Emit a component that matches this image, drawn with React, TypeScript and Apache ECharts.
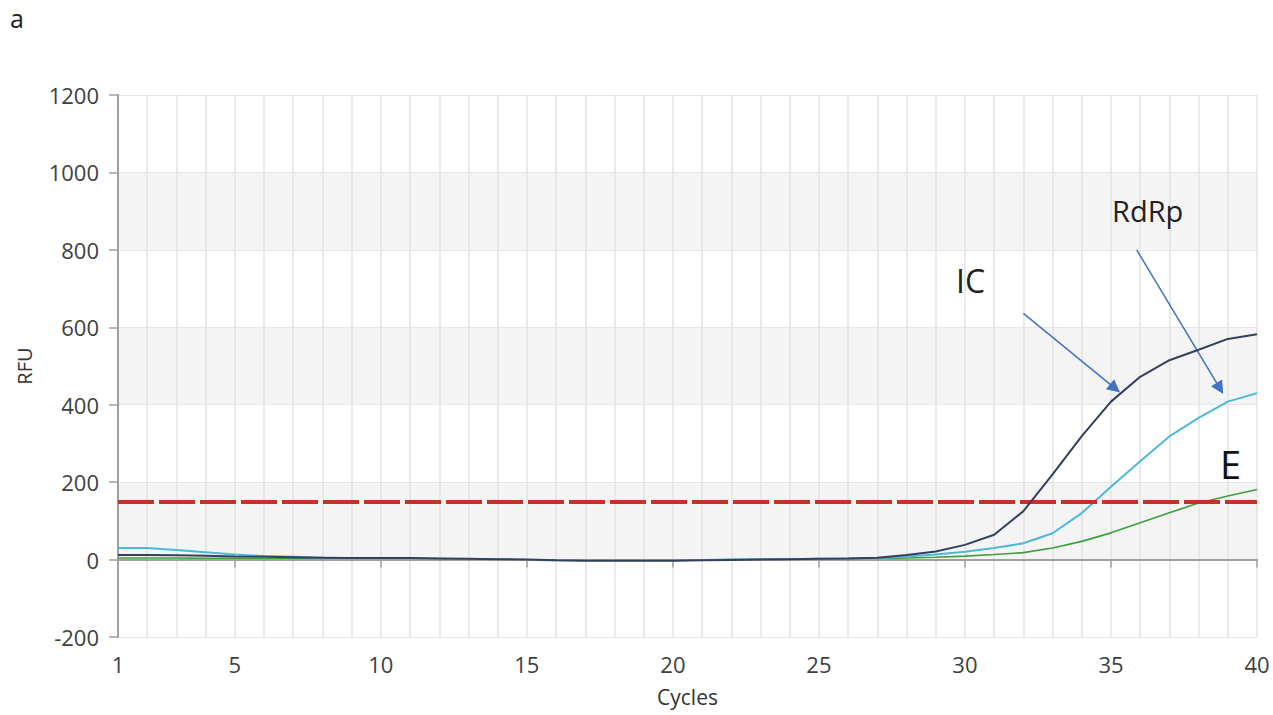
import React, { useEffect, useRef } from "react";
import * as echarts from "echarts";

// ---- data ----
const cycles = [1, 2, 3, 4, 5, 6, 7, 8, 9, 10, 11, 12, 13, 14, 15, 16, 17, 18, 19, 20,
  21, 22, 23, 24, 25, 26, 27, 28, 29, 30, 31, 32, 33, 34, 35, 36, 37, 38, 39, 40];

const icRFU = [12, 12, 11, 10, 8, 7, 6, 5, 4, 4, 4, 3, 2, 1, 0, -2, -3, -3, -3, -3,
  -2, -1, 0, 1, 2, 3, 5, 12, 21, 38, 64, 125, 220, 319, 408, 472, 515, 542, 570, 582];

const rdrpRFU = [30, 30, 25, 19, 13, 9, 7, 5, 4, 3, 3, 2, 1, 0, -1, -2, -2, -2, -2, -2,
  -1, 0, 1, 1, 2, 3, 4, 8, 13, 20, 30, 42, 68, 120, 188, 254, 318, 366, 408, 430];

const eRFU = [4, 4, 4, 3, 3, 2, 2, 2, 1, 1, 1, 1, 0, 0, -1, -1, -1, -1, -1, -1,
  -1, 0, 0, 1, 1, 2, 2, 4, 6, 9, 13, 18, 30, 47, 69, 95, 121, 146, 164, 181];

const threshold = 150;
const xLabelCycles = [1, 5, 10, 15, 20, 25, 30, 35, 40];

// arrow annotations in data coordinates [cycle, RFU]
const arrowIC = [[32.0, 636], [35.14, 442]];
const arrowRdRp = [[35.88, 800], [38.73, 442]];

const pair = (vals: number[]) => cycles.map((c, i) => [c, vals[i]]);

const FONT = "'Open Sans', 'Noto Sans', sans-serif";

export default function App() {
  const ref = useRef<HTMLDivElement>(null);

  useEffect(() => {
    if (!ref.current) return;
    const chart = echarts.init(ref.current, undefined, { renderer: "svg" });
    chart.setOption({
      animation: false,
      backgroundColor: "#ffffff",
      grid: { left: 118, right: 16, top: 95, bottom: 78, containLabel: false },
      xAxis: [
        {
          type: "value",
          min: 1,
          max: 40,
          interval: 1,
          name: "Cycles",
          nameLocation: "middle",
          nameGap: 49,
          nameTextStyle: { fontFamily: FONT, fontSize: 21, color: "#333" },
          axisLine: { show: true, lineStyle: { color: "#a0a0a0", width: 2 } },
          axisTick: {
            show: true,
            length: 8,
            customValues: xLabelCycles,
            lineStyle: { color: "#a0a0a0", width: 1.5 },
          },
          axisLabel: {
            customValues: xLabelCycles,
            fontFamily: FONT,
            fontSize: 22,
            color: "#404040",
            margin: 16,
          },
          splitLine: { show: false },
          z: 5,
        },
        {
          type: "value",
          min: 1,
          max: 40,
          interval: 1,
          position: "bottom",
          axisLine: { show: false },
          axisTick: { show: false },
          axisLabel: { show: false },
          splitLine: { show: true, lineStyle: { color: "#e3e3e3", width: 1.5 } },
        },
      ],
      yAxis: {
        type: "value",
        min: -200,
        max: 1200,
        interval: 200,
        name: "RFU",
        nameLocation: "middle",
        nameGap: 84,
        nameRotate: 90,
        nameTextStyle: { fontFamily: FONT, fontSize: 20, color: "#333" },
        axisLine: { show: true, lineStyle: { color: "#a0a0a0", width: 2 } },
        axisTick: { show: true, length: 9, lineStyle: { color: "#a0a0a0", width: 1.5 } },
        axisLabel: {
          fontFamily: FONT,
          fontSize: 22,
          color: "#404040",
          margin: 19,
          formatter: (v: number) => String(v),
        },
        splitLine: { show: true, lineStyle: { color: "#e6e6e6", width: 1 } },
        splitArea: { show: true, areaStyle: { color: ["#ffffff", "#f4f4f4"] } },
      },
      graphic: [
        { type: "text", z: 100, left: 10, top: 5, style: { text: "a", font: `25px ${FONT}`, fill: "#222" } },
        { type: "text", z: 100, left: 956, top: 264, style: { text: "IC", font: `32px ${FONT}`, fill: "#222" } },
        { type: "text", z: 100, left: 1112, top: 196, style: { text: "RdRp", font: `29px ${FONT}`, fill: "#222" } },
        { type: "text", z: 100, left: 1220, top: 445, style: { text: "E", font: `38px ${FONT}`, fill: "#111" } },
      ],
      series: [
        {
          name: "Baseline",
          type: "line",
          data: [],
          silent: true,
          z: 1,
          markLine: {
            silent: true,
            symbol: ["none", "none"],
            label: { show: false },
            data: [
              { yAxis: 0, lineStyle: { color: "#b54a44", width: 1.5, type: "solid" } },
              { yAxis: threshold, lineStyle: { color: "#c8302c", width: 4, type: [36, 5] } },
            ],
          },
        },
        {
          name: "E",
          type: "line",
          data: pair(eRFU),
          showSymbol: false,
          z: 3,
          lineStyle: { color: "#3f9f3a", width: 1.6 },
        },
        {
          name: "RdRp",
          type: "line",
          data: pair(rdrpRFU),
          showSymbol: false,
          z: 4,
          lineStyle: { color: "#4cb9d8", width: 2 },
        },
        {
          name: "IC",
          type: "line",
          data: pair(icRFU),
          showSymbol: false,
          z: 5,
          lineStyle: { color: "#33405c", width: 2 },
          markLine: {
            silent: true,
            symbol: ["none", "triangle"],
            symbolSize: 13,
            label: { show: false },
            lineStyle: { color: "#4472c4", width: 1.5, type: "solid" },
            data: [
              [{ coord: arrowIC[0] }, { coord: arrowIC[1] }],
              [{ coord: arrowRdRp[0] }, { coord: arrowRdRp[1] }],
            ],
          },
        },
      ],
    });
    return () => chart.dispose();
  }, []);

  return (
    <div
      ref={ref}
      style={{ position: "fixed", left: 0, top: 0, width: 1273, height: 715, background: "#fff" }}
    />
  );
}
